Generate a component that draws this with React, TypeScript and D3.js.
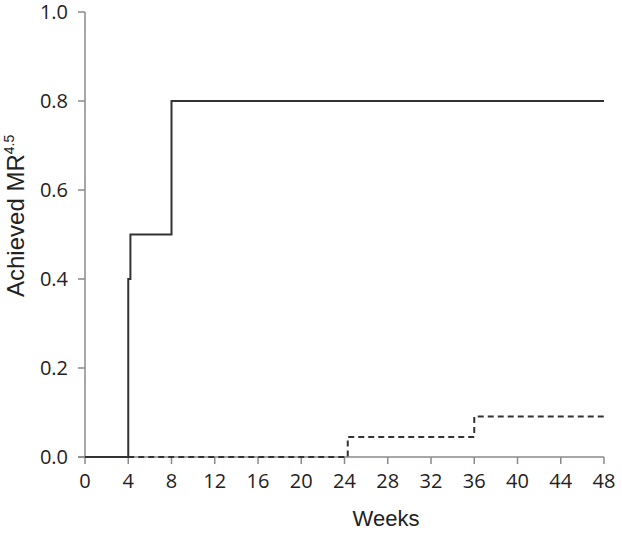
import React from "react";
import * as d3 from "d3";

const solidWeeks = [0, 4, 4, 4.2, 4.2, 8, 8, 48];
const solidValues = [0, 0, 0.4, 0.4, 0.5, 0.5, 0.8, 0.8];
const dashedWeeks = [4, 24.3, 24.3, 36, 36, 48];
const dashedValues = [0, 0, 0.045, 0.045, 0.091, 0.091];
const xTicks = [0, 4, 8, 12, 16, 20, 24, 28, 32, 36, 40, 44, 48];
const yTicks = [0, 0.2, 0.4, 0.6, 0.8, 1.0];

export default function App() {
  const W = 622, H = 533;
  const x = d3.scaleLinear().domain([0, 48]).range([85, 604]);
  const y = d3.scaleLinear().domain([0, 1]).range([457, 12]);
  const line = d3.line<[number, number]>().x(d => x(d[0])).y(d => y(d[1]));
  const solid = line(solidWeeks.map((w, i) => [w, solidValues[i]] as [number, number]));
  const dashed = line(dashedWeeks.map((w, i) => [w, dashedValues[i]] as [number, number]));
  const font = "'Open Sans', sans-serif";
  const labelFont = "'Liberation Sans', Arial, sans-serif";
  const axisColor = "#8a8a8a";
  return (
    <svg width={W} height={H} style={{ position: "absolute", left: 0, top: 0 }} fontFamily={font}>
      <rect width={W} height={H} fill="#fff" />
      <line x1={x(0)} x2={x(0)} y1={y(1)} y2={y(0)} stroke={axisColor} strokeWidth={1.5} />
      <line x1={x(0) - 7} x2={x(48)} y1={y(0)} y2={y(0)} stroke={axisColor} strokeWidth={1.5} />
      {yTicks.map(t => (
        <g key={t}>
          <line x1={x(0) - 7} x2={x(0)} y1={y(t)} y2={y(t)} stroke={axisColor} strokeWidth={1.5} />
          <text x={68} y={y(t)} dy="0.36em" textAnchor="end" fontSize={20} fill="#222">{t.toFixed(1)}</text>
        </g>
      ))}
      {xTicks.map(t => (
        <g key={t}>
          <line x1={x(t)} x2={x(t)} y1={y(0)} y2={y(0) + 7} stroke={axisColor} strokeWidth={1.5} />
          <text x={x(t)} y={y(0) + 31} textAnchor="middle" fontSize={20} fill="#222">{t}</text>
        </g>
      ))}
      <path d={dashed ?? ""} fill="none" stroke="#333" strokeWidth={2} strokeDasharray="6,4" />
      <path d={solid ?? ""} fill="none" stroke="#333" strokeWidth={2} />
      <text x={386} y={526} textAnchor="middle" fontSize={22} fill="#222" fontFamily={labelFont}>Weeks</text>
      <text transform={`translate(24,297) rotate(-90)`} textAnchor="start" fontSize={24} fill="#222" fontFamily={labelFont}>
        Achieved MR<tspan dy={-10} fontSize={14}>4.5</tspan>
      </text>
    </svg>
  );
}
